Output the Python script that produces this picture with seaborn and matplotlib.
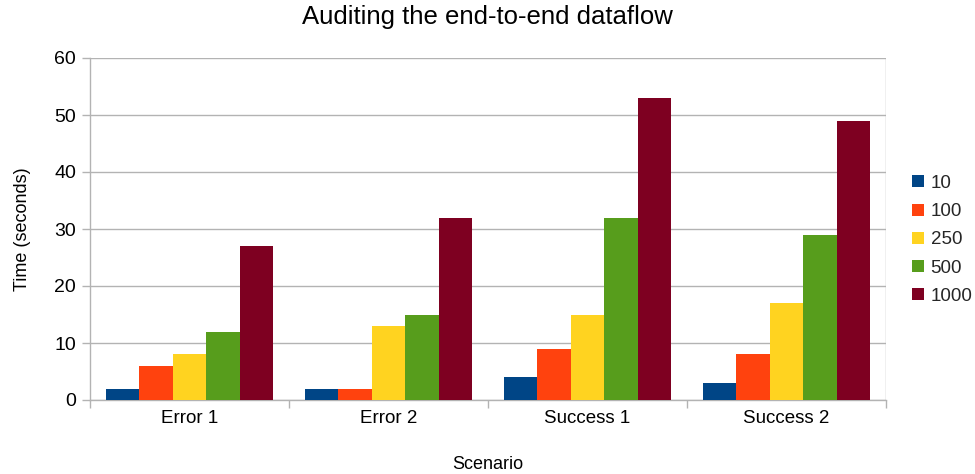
import matplotlib
matplotlib.use("Agg")
import matplotlib.pyplot as plt
import seaborn as sns
import pandas as pd

scenarios = ["Error 1", "Error 2", "Success 1", "Success 2"]
series_names = ["10", "100", "250", "500", "1000"]
values_10 = [2, 2, 4, 3]
values_100 = [6, 2, 9, 8]
values_250 = [8, 13, 15, 17]
values_500 = [12, 15, 32, 29]
values_1000 = [27, 32, 53, 49]
y_ticks = [0, 10, 20, 30, 40, 50, 60]

colors = ["#004586", "#ff420e", "#ffd320", "#579d1c", "#7e0021"]

rows = []
for name, vals in zip(series_names,
                      [values_10, values_100, values_250, values_500, values_1000]):
    for sc, v in zip(scenarios, vals):
        rows.append({"Scenario": sc, "Series": name, "Time": v})
df = pd.DataFrame(rows)

sns.set_theme(style="white")
plt.rcParams["font.family"] = ["Liberation Sans", "DejaVu Sans"]

fig = plt.figure(figsize=(9.75, 4.74), dpi=100)
ax = fig.add_axes([90 / 975, 1 - 400 / 474, (886 - 90) / 975, (400 - 58) / 474])

sns.barplot(data=df, x="Scenario", y="Time", hue="Series",
            order=scenarios, hue_order=series_names,
            palette=colors, width=0.84, gap=0, saturation=1,
            edgecolor="none", linewidth=0, ax=ax, zorder=3)

grid_c = "#b3b3b3"
ax.set_ylim(0, 60)
ax.set_yticks(y_ticks)
ax.set_xlim(-0.5, len(scenarios) - 0.5)
ax.yaxis.grid(True, color=grid_c, linewidth=1, zorder=0)
ax.set_axisbelow(True)

for side in ["top", "right"]:
    ax.spines[side].set_visible(False)
for side in ["left", "bottom"]:
    ax.spines[side].set_color(grid_c)
    ax.spines[side].set_linewidth(1)

# Vertical gridline at the right edge of the plot area
ax.axvline(len(scenarios) - 0.5, color=grid_c, linewidth=1, zorder=0)

# Category separators on the x axis
ax.set_xticks([i - 0.5 for i in range(len(scenarios) + 1)], minor=True)
ax.tick_params(axis="x", which="minor", length=6, color=grid_c, width=1,
               direction="out", bottom=True)
ax.tick_params(axis="x", which="major", length=0, labelsize=13.5,
               labelcolor="#000000", pad=7)
ax.tick_params(axis="y", which="major", length=6, color=grid_c, width=1,
               left=True, labelsize=14, labelcolor="#000000", pad=4)

ax.set_xlabel("Scenario", fontsize=13, color="#000000", labelpad=21)
ax.set_ylabel("Time (seconds)", fontsize=13, color="#000000", labelpad=17)
fig.suptitle("Auditing the end-to-end dataflow", fontsize=18.5, color="#000000",
             y=0.99)

sns.move_legend(ax, "center left", bbox_to_anchor=(1.012, 0.468), frameon=False,
                title=None, fontsize=13.5, handlelength=0.62, handleheight=0.62,
                handletextpad=0.35, labelspacing=0.6)

fig.savefig("out.png", dpi=100)
